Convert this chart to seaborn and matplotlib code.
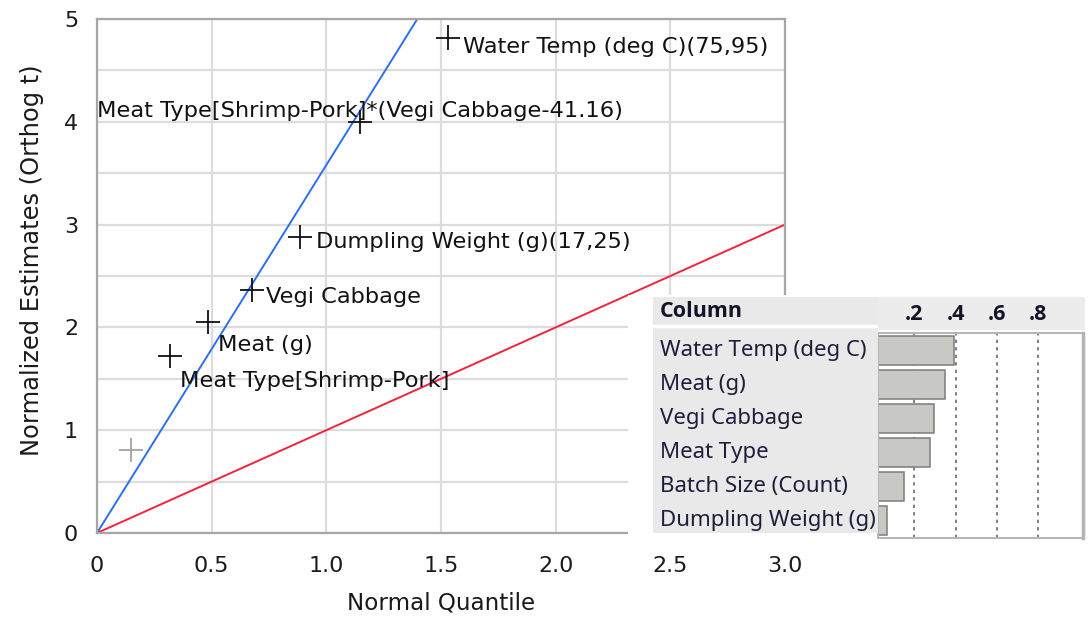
import matplotlib
matplotlib.use("Agg")
import matplotlib.pyplot as plt
import matplotlib.transforms as mtransforms
from matplotlib.patches import Rectangle
import numpy as np
import pandas as pd
import seaborn as sns

# Half-normal plot of effect estimates
effect_labels = [
    "Water Temp (deg C)(75,95)",
    "Meat Type[Shrimp-Pork]*(Vegi Cabbage-41.16)",
    "Dumpling Weight (g)(17,25)",
    "Vegi Cabbage",
    "Meat (g)",
    "Meat Type[Shrimp-Pork]",
    "",
]
normal_quantile = [1.53, 1.145, 0.885, 0.675, 0.485, 0.318, 0.148]
normalized_estimate = [4.82, 4.00, 2.88, 2.36, 2.05, 1.72, 0.81]
effect_group = ["active", "active", "active", "active", "active", "active", "inactive"]
lenth_slope = 3.58
unit_slope = 1.0

x_ticks = [0, 0.5, 1.0, 1.5, 2.0, 2.5, 3.0]
x_tick_labels = ["0", "0.5", "1.0", "1.5", "2.0", "2.5", "3.0"]
y_ticks = [0, 1, 2, 3, 4, 5]
y_minor_ticks = [0.5, 1.5, 2.5, 3.5, 4.5]

# Column contributions panel
columns = ["Water Temp (deg C)", "Meat (g)", "Vegi Cabbage", "Meat Type",
           "Batch Size (Count)", "Dumpling Weight (g)"]
contribution = [0.393, 0.348, 0.298, 0.279, 0.153, 0.068]
contrib_ticks = [0.2, 0.4, 0.6, 0.8]
contrib_tick_labels = [".2", ".4", ".6", ".8"]

sns.set_theme(style="white")
plt.rcParams["font.family"] = ["DejaVu Sans"]

W, H = 1089, 617
fig = plt.figure(figsize=(W / 100, H / 100), dpi=100)
fig.patch.set_facecolor("white")


def px(x0, y0, x1, y1):
    return [x0 / W, 1 - y1 / H, (x1 - x0) / W, (y1 - y0) / H]


# ---- main half-normal plot ----
ax = fig.add_axes(px(97, 19, 785, 533))
ax.set_zorder(0)
ax.set_facecolor("white")

df = pd.DataFrame({
    "quantile": normal_quantile,
    "estimate": normalized_estimate,
    "group": effect_group,
    "label": effect_labels,
})

ax.axline((0, 0), slope=lenth_slope, color="#2d6ef0", lw=1.4, zorder=2)
ax.axline((0, 0), slope=unit_slope, color="#f0243c", lw=1.4, zorder=2)

sns.scatterplot(data=df, x="quantile", y="estimate", hue="group",
                palette={"active": "#111111", "inactive": "#a3a3a3"},
                marker="+", s=300, linewidth=1.3, legend=False, ax=ax, zorder=3)

label_offsets = [(15, -9), (-263, 11), (16, -5), (14, -7), (10, -23), (10, -25)]
for (lab, xq, ye), (dx, dy) in zip(zip(effect_labels, normal_quantile, normalized_estimate), label_offsets):
    ax.annotate(lab, (xq, ye), xytext=(dx, dy), textcoords="offset pixels",
                ha="left", va="center", fontsize=16.2, color="#111111", zorder=4)

ax.set_xlim(0, 3.0)
ax.set_ylim(0, 5)
ax.set_xticks(x_ticks, x_tick_labels)
ax.set_yticks(y_ticks)
ax.set_yticks(y_minor_ticks, minor=True)
ax.grid(which="both", color="#dcdcdc", lw=1.6)
ax.set_axisbelow(True)
for sp in ax.spines.values():
    sp.set_color("#a6a6a6")
    sp.set_linewidth(1.6)
ax.tick_params(which="both", length=8.6, width=1.6, color="#a6a6a6",
               labelsize=16, labelcolor="#1a1a1a")
ax.tick_params(axis="x", pad=8)
ax.tick_params(axis="y", pad=5)
ax.set_xlabel("Normal Quantile", fontsize=16.6, color="#1a1a1a", labelpad=11)
ax.set_ylabel("Normalized Estimates (Orthog t)", fontsize=17.4, color="#1a1a1a")
ax.yaxis.set_label_coords(-0.077, 0.531)

# ---- column contributions panel ----
fig.add_artist(Rectangle((628 / W, 1 - 542 / H), (W - 628) / W, (542 - 295) / H,
                         transform=fig.transFigure, facecolor="white",
                         edgecolor="none", zorder=5))
fig.add_artist(Rectangle((878 / W, 1 - 330 / H), (1085 - 878) / W, (330 - 297) / H,
                         transform=fig.transFigure, facecolor="#ececec",
                         edgecolor="none", zorder=6))

ax_lab = fig.add_axes(px(653, 297, 878, 533))
ax_lab.set_zorder(8)
ax_lab.set_facecolor("#e9e9e9")
ax_lab.set_xticks([])
ax_lab.set_yticks([])
for sp in ax_lab.spines.values():
    sp.set_visible(False)
ax_lab.plot([0, 1], [0.877, 0.877], transform=ax_lab.transAxes, color="white", lw=2.5)
ax_lab.text(0.03, 0.94, "Column", transform=ax_lab.transAxes, ha="left", va="center",
            fontsize=15.5, fontweight="bold", color="#141428", family="Open Sans")

ax_bar = fig.add_axes(px(878, 333, 1083, 538))
ax_bar.set_zorder(7)
ax_bar.set_facecolor("white")
sns.barplot(x=contribution, y=columns, orient="h", color="#c8c8c4", saturation=1,
            edgecolor="#7c7c7c", linewidth=1.1, width=0.85, ax=ax_bar)
ax_bar.set_xlim(0.026, 1.015)
ax_bar.set_ylim(5.5, -0.5)
ax_bar.set_yticks([])
ax_bar.set_xlabel("")
ax_bar.set_ylabel("")
ax_bar.xaxis.tick_top()
ax_bar.set_xticks(contrib_ticks, contrib_tick_labels)
ax_bar.tick_params(axis="x", length=0, pad=6, labelsize=15.5, labelcolor="#141428")
for t in ax_bar.get_xticklabels():
    t.set_fontweight("bold")
    t.set_family("Open Sans")
ax_bar.grid(axis="x", ls=(0, (2, 2.5)), color="#6a6a6a", lw=1.2)
ax_bar.set_axisbelow(True)
for sp in ax_bar.spines.values():
    sp.set_color("#b4b4b4")
    sp.set_linewidth(1.4)
ax_bar.spines["right"].set_linewidth(2.5)

row_trans = mtransforms.blended_transform_factory(ax_lab.transAxes, ax_bar.transData)
for i, name in enumerate(columns):
    ax_lab.text(0.031, i, name, transform=row_trans, ha="left", va="center",
                fontsize=16, color="#1e1e3c", family="Noto Sans", clip_on=True)

fig.savefig("out.png", dpi=100, facecolor="white")
